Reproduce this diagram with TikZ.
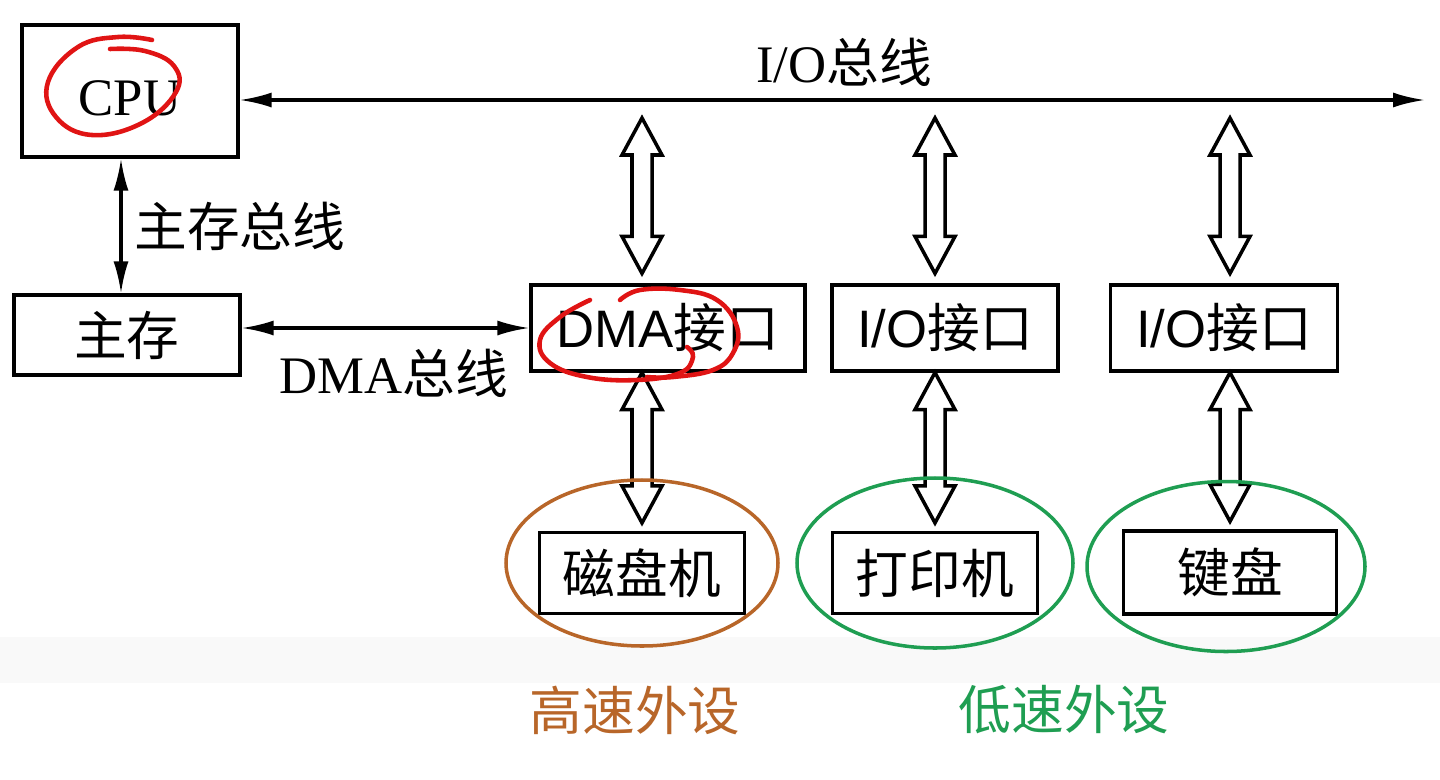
\documentclass[tikz,border=0pt]{standalone}
\usepackage{fontspec}
\setmainfont{Liberation Serif}
\newfontfamily\cjk{Noto Sans CJK SC}
\newfontfamily\arialfont{Liberation Sans}
\usetikzlibrary{arrows.meta, calc, positioning}
\tikzstyle{box} = [rectangle,draw,line width=0.9pt,inner sep=0pt,text centered]
\tikzstyle{hollow} = [line width=1pt,to path={let \p1=(\tikztostart), \p2=(\tikztotarget) in
	(\x1,\y1) -- (\x1+0.2cm,\y1-0.37cm) -- (\x1+0.1cm,\y1-0.37cm) -- (\x1+0.1cm,\y2+0.37cm)
	-- (\x1+0.2cm,\y2+0.37cm) -- (\x1,\y2) -- (\x1-0.2cm,\y2+0.37cm) -- (\x1-0.1cm,\y2+0.37cm)
	-- (\x1-0.1cm,\y1-0.37cm) -- (\x1-0.2cm,\y1-0.37cm) -- cycle}]
\tikzstyle{pen} = [redpen,line width=1.3pt,line cap=round]
\definecolor{redpen}{rgb}{0.88, 0.08, 0.08}
\definecolor{highspeed}{rgb}{0.72, 0.40, 0.16}
\definecolor{lowspeed}{rgb}{0.12, 0.62, 0.32}
\definecolor{bandgray}{rgb}{0.975, 0.975, 0.975}
\begin{document}
\begin{tikzpicture}[font=\fontsize{15}{18}\selectfont, >={Latex[length=3.2mm,width=1.5mm]}]

	\useasboundingbox (0,0) rectangle (14.4,-7.79);
	\fill[bandgray] (0,-6.37) rectangle (14.4,-6.83);

	\node[box,minimum width=2.16cm,minimum height=1.32cm](cpu) at (1.30,-0.91) {\raisebox{-0.07cm}[\height][\depth]{CPU}};
	\node[box,minimum width=2.26cm,minimum height=0.80cm,below of=cpu,yshift=-1.44cm,xshift=-0.03cm](mem) {\cjk 主存};
	\node[box,minimum width=2.74cm,minimum height=0.86cm,right of=mem,xshift=4.41cm,yshift=0.07cm](dma) {\arialfont DMA\cjk 接口};
	\node[box,minimum width=2.26cm,minimum height=0.86cm,right of=dma,xshift=1.77cm](io1) {\arialfont I/O\cjk 接口};
	\node[box,minimum width=2.27cm,minimum height=0.86cm,right of=io1,xshift=1.79cm](io2) {\arialfont I/O\cjk 接口};
	\node[box,minimum width=2.05cm,minimum height=0.81cm,below of=dma,yshift=-1.45cm,xshift=-0.26cm](disk) {\cjk 磁盘机};
	\node[box,minimum width=2.05cm,minimum height=0.81cm,below of=io1,yshift=-1.45cm,xshift=-0.10cm](prn) {\cjk 打印机};
	\node[box,minimum width=2.13cm,minimum height=0.83cm,below of=io2,yshift=-1.445cm,xshift=0.06cm](kbd) {\cjk 键盘};
	\node[below of=disk,yshift=-0.37cm,xshift=-0.07cm,text=highspeed](hs) {\cjk 高速外设};
	\node[below of=prn,yshift=-0.37cm,xshift=1.29cm,text=lowspeed](ls) {\cjk 低速外设};
	\coordinate (bend) at (14.25,-1.00);

	\draw[<->,line width=0.9pt] (cpu.east |- bend) -- node[above,pos=0.51]{I/O\cjk 总线}(bend);
	\draw[<->,line width=0.9pt] ([xshift=-0.09cm]cpu.south) -- node[right]{\cjk 主存总线}([xshift=-0.06cm]mem.north);
	\draw[<->,line width=0.9pt] (mem.east |- dma.west) -- node[below=0.08cm,pos=0.53]{DMA\cjk 总线}(dma.west);

	\draw[hollow] ($(disk |- bend)+(0,-0.18)$) to ($(disk |- dma.north)+(0,0.10)$);
	\draw[hollow] ($(prn |- bend)+(0,-0.18)$) to ($(prn |- io1.north)+(0,0.10)$);
	\draw[hollow] ($(kbd |- bend)+(0,-0.18)$) to ($(kbd |- io2.north)+(0,0.10)$);
	\draw[hollow] (disk |- dma.south) to ($(disk.north)+(0,0.08)$);
	\draw[hollow] (prn |- io1.south) to ($(prn.north)+(0,0.08)$);
	\draw[hollow] (kbd |- io2.south) to ($(kbd.north)+(0,0.08)$);

	\draw[highspeed,line width=1pt] ([yshift=0.10cm]disk.center) ellipse (1.36cm and 0.83cm);
	\draw[lowspeed,line width=1pt] ([yshift=0.10cm]prn.center) ellipse (1.38cm and 0.85cm);
	\draw[lowspeed,line width=1pt] ([yshift=0.06cm,xshift=-0.04cm]kbd.center) ellipse (1.39cm and 0.85cm);

	\draw[pen] plot[smooth,tension=0.7] coordinates {(1.52,-0.40) (1.18,-0.37) (0.78,-0.47) (0.48,-0.82) (0.56,-1.17) (0.92,-1.35) (1.42,-1.23) (1.76,-0.92) (1.74,-0.66) (1.45,-0.51) (1.10,-0.49)};
	\draw[pen] plot[smooth,tension=0.7] coordinates {(5.90,-3.00) (5.60,-3.17) (5.40,-3.40) (5.50,-3.63) (5.87,-3.77) (6.37,-3.80) (6.80,-3.73) (6.93,-3.57) (6.87,-3.47)};
	\draw[pen] plot[smooth,tension=0.7] coordinates {(6.20,-3.00) (6.40,-2.90) (6.80,-2.90) (7.17,-3.00) (7.37,-3.27) (7.33,-3.53) (7.13,-3.70) (6.73,-3.77) (6.47,-3.77)};

\end{tikzpicture}
\end{document}
